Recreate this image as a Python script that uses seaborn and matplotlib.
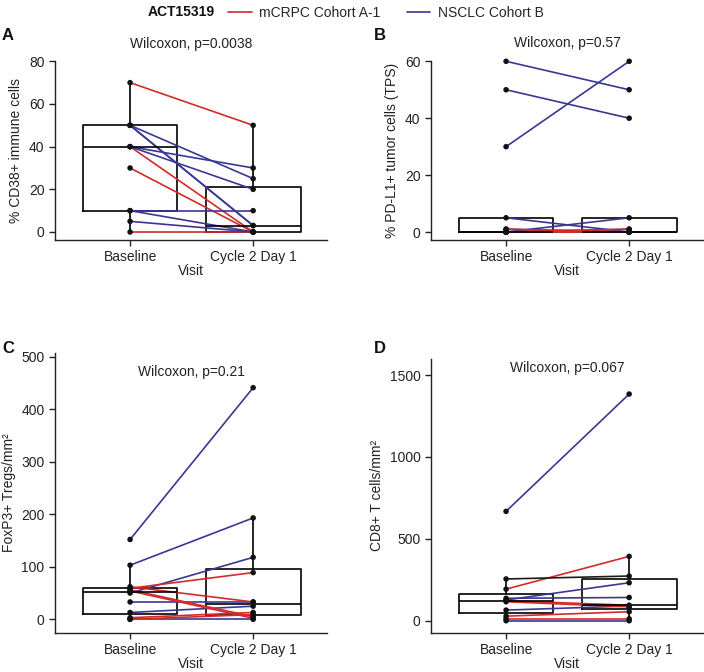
import numpy as np
import pandas as pd
import matplotlib
matplotlib.use("Agg")
import matplotlib.pyplot as plt
import seaborn as sns
from matplotlib.lines import Line2D

# ---------------- data ----------------
visits = ["Baseline", "Cycle 2 Day 1"]
cohort_names = {"A": "mCRPC Cohort A-1", "B": "NSCLC Cohort B"}
legend_title = "ACT15319"

# Panel A: % CD38+ immune cells
a_cohort = ["A", "A", "A", "A", "B", "B", "B", "B", "B", "B", "B", "B"]
a_baseline = [70, 40, 30, 0, 50, 50, 50, 40, 40, 10, 5, 10]
a_cycle2 = [50, 0, 0, 0, 25, 3, 3, 30, 20, 10, 0, 0]

# Panel B: % PD-L1+ tumor cells (TPS)
b_cohort = ["B", "B", "B", "B", "B", "B", "A", "A", "B", "A", "B", "A", "B"]
b_baseline = [60, 50, 30, 5, 0, 1, 0, 0, 0, 1, 0, 0, 0]
b_cycle2 = [50, 40, 60, 0, 5, 0, 1, 0, 0, 0, 1, 0, 0]

# Panel C: FoxP3+ Tregs/mm2
c_cohort = ["B", "B", "B", "A", "A", "A", "B", "B", "A", "A", "B", "A"]
c_baseline = [152, 103, 50, 59, 62, 56, 33, 13, 3, 0, 0, 54]
c_cycle2 = [441, 193, 118, 89, 33, 5, 33, 25, 13, 9, 0, 2]

# Panel D: CD8+ T cells/mm2
d_cohort = ["B", "A", "U", "B", "B", "A", "B", "A", "A", "B", "A"]
d_baseline = [668, 193, 255, 127, 137, 122, 65, 28, 12, 0, 116]
d_cycle2 = [1384, 393, 273, 232, 142, 95, 90, 55, 12, 0, 85]

pvals = ["Wilcoxon, p=0.0038", "Wilcoxon, p=0.57", "Wilcoxon, p=0.21", "Wilcoxon, p=0.067"]

# ---------------- style ----------------
sns.set_style("ticks")
plt.rcParams["font.family"] = ["Liberation Sans", "DejaVu Sans"]
plt.rcParams["font.size"] = 10

palette = {"A": "#d42a2a", "B": "#3a3794", "U": "#1c1c1c"}

W, H = 704, 672
fig = plt.figure(figsize=(W / 100, H / 100), dpi=100)


def axes_px(left, top, right, bottom):
    return fig.add_axes([left / W, 1 - bottom / H, (right - left) / W, (bottom - top) / H])


def panel(ax, base, c2, coh, ylabel, ylim, yticks, ptext, ptext_y):
    n = len(base)
    df = pd.DataFrame({
        "subject": list(range(n)) * 2,
        "xpos": [0] * n + [1] * n,
        "value": list(base) + list(c2),
        "cohort": list(coh) * 2,
    })
    sns.boxplot(data=df, x="xpos", y="value", ax=ax, fill=False, color="black",
                linecolor="#1a1a1a", width=0.77, showfliers=False, showcaps=False,
                linewidth=1.2, whis=1.5)
    sns.lineplot(data=df, x="xpos", y="value", units="subject", estimator=None,
                 hue="cohort", palette=palette, legend=False, ax=ax, linewidth=1.2)
    sns.scatterplot(data=df, x="xpos", y="value", color="#111111", s=16,
                    edgecolor="none", ax=ax, zorder=5, legend=False, clip_on=False)
    for ln in ax.lines:
        ln.set_clip_on(False)
    ax.set_xlim(-0.61, 1.60)
    ax.set_ylim(*ylim)
    ax.set_yticks(yticks)
    ax.set_xticks([0, 1])
    ax.set_xticklabels(visits)
    ax.set_xlabel("Visit", fontsize=10, labelpad=0, color="#222222")
    ax.set_ylabel(ylabel, fontsize=10, color="#222222")
    ax.tick_params(axis="both", labelsize=10, length=4, width=1, colors="#222222",
                   labelcolor="#222222", direction="out")
    for s in ["left", "bottom"]:
        ax.spines[s].set_linewidth(1.0)
        ax.spines[s].set_color("#222222")
    sns.despine(ax=ax)
    ax.text(0.5, ptext_y, ptext, ha="center", va="center", fontsize=10,
            color="#222222", clip_on=False)


axA = axes_px(55, 61.3, 327, 240)
panel(axA, a_baseline, a_cycle2, a_cohort, "% CD38+ immune cells",
      (-3.75, 80), [0, 20, 40, 60, 80], pvals[0], 88.1)

axB = axes_px(431, 61.3, 703, 240)
panel(axB, b_baseline, b_cycle2, b_cohort, "% PD-L1+ tumor cells (TPS)",
      (-2.81, 60), [0, 20, 40, 60], pvals[1], 66.3)

axC = axes_px(55, 353, 327, 632.7)
panel(axC, c_baseline, c_cycle2, c_cohort, "FoxP3+ Tregs/mm\u00b2",
      (-25.5, 507), [0, 100, 200, 300, 400, 500], pvals[2], 471)

axD = axes_px(431, 359, 703, 632.7)
panel(axD, d_baseline, d_cycle2, d_cohort, "CD8+ T cells/mm\u00b2",
      (-73, 1598), [0, 500, 1000, 1500], pvals[3], 1543)

# panel letters
for lab, (x, y) in zip("ABCD", [(8, 36), (380, 36), (8, 348), (380, 348)]):
    fig.text(x / W, 1 - y / H, lab, ha="center", va="center", fontsize=12,
             fontweight="bold", color="#111111")

# legend
fig.text(181.5 / W, 1 - 12.5 / H, legend_title, ha="center", va="center",
         fontsize=10, fontweight="bold", color="#111111")
handles = [Line2D([], [], color=palette[k], lw=1.2, label=cohort_names[k]) for k in ["A", "B"]]
fig.legend(handles=handles, loc="center", bbox_to_anchor=(386 / W, 1 - 13 / H),
           ncol=2, frameon=False, handlelength=1.7, handletextpad=0.55,
           columnspacing=1.9, fontsize=10, borderaxespad=0)

fig.savefig("out.png", dpi=100)
